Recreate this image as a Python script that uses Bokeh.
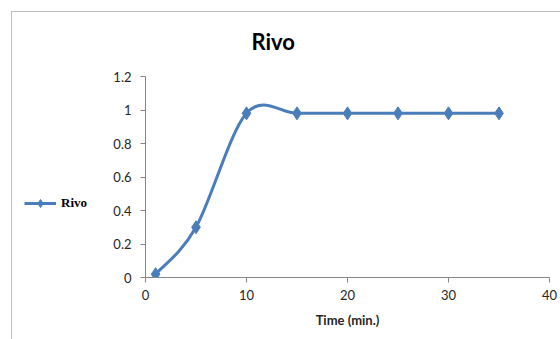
from bokeh.plotting import figure
from bokeh.layouts import row
from bokeh.models import (Range1d, FixedTicker, Legend, LegendItem, ColumnDataSource)
from bokeh.embed import file_html
from bokeh.resources import INLINE

# data
time_min = [1, 5, 10, 15, 20, 25, 30, 35]
rivo = [0.02, 0.30, 0.98, 0.98, 0.98, 0.98, 0.98, 0.98]
x_ticks = [0, 10, 20, 30, 40]
y_ticks = [0, 0.2, 0.4, 0.6, 0.8, 1, 1.2]
y_tick_labels = ["0", "0.2", "0.4", "0.6", "0.8", "1", "1.2"]
title_text = "Rivo"
series_name = "Rivo"
x_title = "Time (min.)"

BLUE = "#4a7ebb"
AXIS = "#868686"
TXT = "#262626"
EDGE = "#bfbfbf"

# smoothed line (Catmull-Rom style bezier segments, as Excel smoothing)
n = len(time_min)
x0, y0, x1, y1, cx0, cy0, cx1, cy1 = [], [], [], [], [], [], [], []
for i in range(n - 1):
    pm = (time_min[max(i - 1, 0)], rivo[max(i - 1, 0)])
    pa = (time_min[i], rivo[i])
    pb = (time_min[i + 1], rivo[i + 1])
    pp = (time_min[min(i + 2, n - 1)], rivo[min(i + 2, n - 1)])
    x0.append(pa[0]); y0.append(pa[1]); x1.append(pb[0]); y1.append(pb[1])
    cx0.append(pa[0] + (pb[0] - pm[0]) / 6); cy0.append(pa[1] + (pb[1] - pm[1]) / 6)
    cx1.append(pb[0] - (pp[0] - pa[0]) / 6); cy1.append(pb[1] - (pp[1] - pa[1]) / 6)
bsrc = ColumnDataSource(dict(x0=x0, y0=y0, x1=x1, y1=y1, cx0=cx0, cy0=cy0, cx1=cx1, cy1=cy1))

# ---- legend panel (left part of the chart) ----
leg = figure(width=110, height=339, output_backend="svg", toolbar_location=None,
             x_range=Range1d(1000, 1001), y_range=Range1d(1000, 1001),
             x_axis_location=None, y_axis_location=None, min_border=0)
leg.outline_line_color = None
leg.border_fill_color = None
leg.background_fill_color = None
leg.grid.visible = False
leg.styles = {
    "background": f"linear-gradient({EDGE}, {EDGE}) 11px 11px / 1px 100% no-repeat, "
                  f"linear-gradient({EDGE}, {EDGE}) 11px 11px / 100% 1px no-repeat, white"
}
lbz = leg.bezier(x0="x0", y0="y0", x1="x1", y1="y1", cx0="cx0", cy0="cy0", cx1="cx1", cy1="cy1",
                 source=bsrc, line_color=BLUE, line_width=3)
lsc = leg.scatter(time_min, rivo, marker="diamond", size=11, fill_color=BLUE, line_color=BLUE)
legend = Legend(items=[LegendItem(label=series_name, renderers=[lbz, lsc])],
                location=(24, 64), border_line_color=None, background_fill_alpha=0,
                padding=0, margin=0, glyph_width=32, glyph_height=20, label_height=20,
                label_standoff=5, label_text_font="Liberation Serif",
                label_text_font_style="bold", label_text_font_size="13px", label_text_color="#000000")
leg.add_layout(legend, "center")

# ---- main plot ----
p = figure(width=450, height=339, output_backend="svg", toolbar_location=None,
           x_range=Range1d(0, 40), y_range=Range1d(0, 1.2),
           min_border_left=33, min_border_right=11, min_border_top=76, min_border_bottom=62)
p.outline_line_color = None
p.border_fill_color = None
p.background_fill_color = "white"
p.xgrid.visible = False
p.ygrid.visible = False
p.styles = {
    "background": f"linear-gradient({EDGE}, {EDGE}) 0px 11px / 100% 1px no-repeat, white"
}
bz = p.bezier(x0="x0", y0="y0", x1="x1", y1="y1", cx0="cx0", cy0="cy0", cx1="cx1", cy1="cy1",
              source=bsrc, line_color=BLUE, line_width=3)
sc = p.scatter(time_min, rivo, marker="diamond", size=13, fill_color=BLUE, line_color=BLUE)

for ax in (p.xaxis[0], p.yaxis[0]):
    ax.axis_line_color = AXIS
    ax.major_tick_line_color = AXIS
    ax.major_tick_out = 5
    ax.major_tick_in = 0
    ax.minor_tick_line_color = None
    ax.major_label_text_font = "Lato"
    ax.major_label_text_font_size = "13px"
    ax.major_label_text_color = TXT
p.xaxis[0].ticker = FixedTicker(ticks=x_ticks)
p.yaxis[0].ticker = FixedTicker(ticks=y_ticks)
p.yaxis[0].major_label_overrides = {t: l for t, l in zip(y_ticks, y_tick_labels)}
p.xaxis[0].major_label_standoff = 7
p.yaxis[0].major_label_standoff = 9
p.xaxis[0].axis_label = x_title
p.xaxis[0].axis_label_text_font = "Lato"
p.xaxis[0].axis_label_text_font_style = "bold"
p.xaxis[0].axis_label_text_font_size = "13px"
p.xaxis[0].axis_label_text_color = TXT
p.xaxis[0].axis_label_standoff = 9

p.title.text = title_text
p.title.text_font = "Lato"
p.title.text_font_style = "bold"
p.title.text_font_size = "22px"
p.title.text_color = "#000000"
p.title.align = "left"
p.title.offset = 106
p.title.standoff = 43

layout = row(leg, p, spacing=0)
open("out.html", "w").write(file_html(layout, INLINE))
